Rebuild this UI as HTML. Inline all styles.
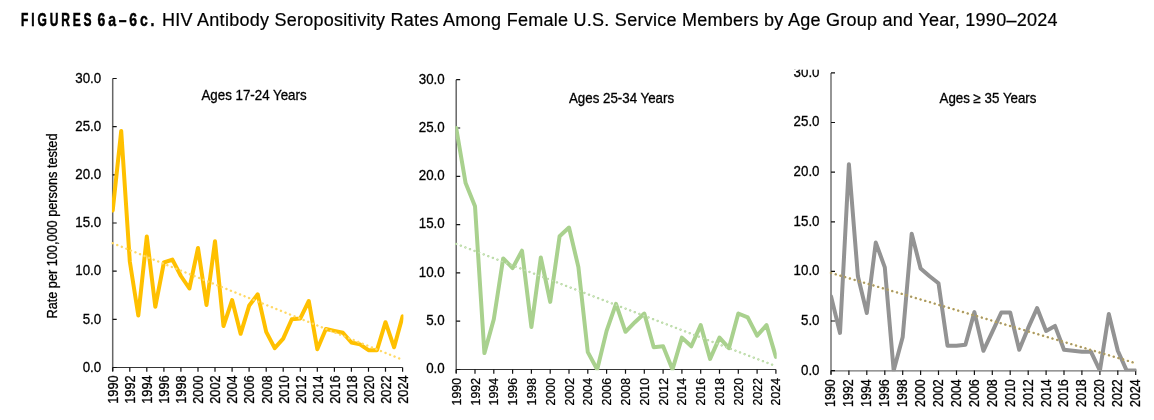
<!DOCTYPE html>
<html><head><meta charset="utf-8"><title>Figures 6a-6c</title>
<style>
html,body{margin:0;padding:0;background:#fff}
svg{display:block}
text{font-family:"Liberation Sans",Arial,sans-serif;font-size:13.33px;fill:#000;stroke:#000;stroke-width:0.28px}
</style></head><body>
<svg width="1154" height="420" viewBox="0 0 1154 420">
<rect width="1154" height="420" fill="#fff"/>
<text id="tb" transform="translate(21 26) scale(0.686 1)" style="font-weight:bold;font-size:17.5px;letter-spacing:4.2px;stroke:#000;stroke-width:0.55px">FIGURES</text>
<text id="tb2" transform="translate(97.6 26) scale(0.8 1)" style="font-weight:bold;font-size:17.5px;letter-spacing:3.5px;stroke:#000;stroke-width:0.45px">6a–6c.</text>
<text id="tt" x="162" y="26" textLength="895.5" lengthAdjust="spacing" style="font-size:18px;stroke-width:0.2px">HIV Antibody Seropositivity Rates Among Female U.S. Service Members by Age Group and Year, 1990–2024</text>
<text transform="translate(57 318.5) rotate(-90) scale(1 1.04)" textLength="185" lengthAdjust="spacingAndGlyphs">Rate per 100,000 persons tested</text>
<g id="c1">
<clipPath id="cp-c1"><rect x="112.0" y="68.5" width="291.4" height="299.7"/></clipPath>
<path d="M112.7 78.5V371.0" stroke="#666" stroke-width="1.5" fill="none"/>
<path d="M112.7 367.5H402.6" stroke="#363636" stroke-width="1.1" fill="none"/>
<path d="M112.7 367.5h4M112.7 319.3h4M112.7 271.2h4M112.7 223.0h4M112.7 174.8h4M112.7 126.7h4M112.7 78.5h4M112.7 367.5v4.3M129.8 367.5v4.3M146.8 367.5v4.3M163.9 367.5v4.3M180.9 367.5v4.3M198.0 367.5v4.3M215.0 367.5v4.3M232.1 367.5v4.3M249.1 367.5v4.3M266.2 367.5v4.3M283.2 367.5v4.3M300.3 367.5v4.3M317.3 367.5v4.3M334.4 367.5v4.3M351.4 367.5v4.3M368.5 367.5v4.3M385.5 367.5v4.3M402.6 367.5v4.3" stroke="#111" stroke-width="1.2" fill="none"/>
<polyline clip-path="url(#cp-c1)" points="112.7,210.5 121.2,131.0 129.8,261.5 138.3,315.5 146.8,236.5 155.3,306.8 163.9,262.5 172.4,259.6 180.9,276.0 189.4,288.5 198.0,248.0 206.5,304.9 215.0,241.3 223.5,326.1 232.1,300.1 240.6,333.8 249.1,305.8 257.7,294.3 266.2,331.9 274.7,348.2 283.2,338.6 291.8,319.3 300.3,318.4 308.8,301.0 317.3,349.2 325.9,329.0 334.4,330.9 342.9,332.8 351.4,342.5 360.0,344.4 368.5,350.2 377.0,350.2 385.5,322.2 394.1,347.3 402.6,316.4" fill="none" stroke="#FFC000" stroke-width="4.0" stroke-linejoin="round" stroke-linecap="round"/>
<line x1="112.7" y1="243.2" x2="402.6" y2="359.8" stroke="#FFD966" stroke-width="2.4" stroke-dasharray="0.1 4.800" stroke-linecap="round"/>
<g>
<text transform="translate(101.2 371.7) scale(1 1.08)" text-anchor="end">0.0</text>
<text transform="translate(101.2 323.5) scale(1 1.08)" text-anchor="end">5.0</text>
<text transform="translate(101.2 275.4) scale(1 1.08)" text-anchor="end">10.0</text>
<text transform="translate(101.2 227.2) scale(1 1.08)" text-anchor="end">15.0</text>
<text transform="translate(101.2 179.0) scale(1 1.08)" text-anchor="end">20.0</text>
<text transform="translate(101.2 130.9) scale(1 1.08)" text-anchor="end">25.0</text>
<text transform="translate(101.2 82.7) scale(1 1.08)" text-anchor="end">30.0</text>
</g>
<text transform="translate(118.0 375.4) rotate(-90) scale(0.955 1.08)" text-anchor="end">1990</text>
<text transform="translate(135.1 375.4) rotate(-90) scale(0.955 1.08)" text-anchor="end">1992</text>
<text transform="translate(152.1 375.4) rotate(-90) scale(0.955 1.08)" text-anchor="end">1994</text>
<text transform="translate(169.2 375.4) rotate(-90) scale(0.955 1.08)" text-anchor="end">1996</text>
<text transform="translate(186.2 375.4) rotate(-90) scale(0.955 1.08)" text-anchor="end">1998</text>
<text transform="translate(203.3 375.4) rotate(-90) scale(0.955 1.08)" text-anchor="end">2000</text>
<text transform="translate(220.3 375.4) rotate(-90) scale(0.955 1.08)" text-anchor="end">2002</text>
<text transform="translate(237.4 375.4) rotate(-90) scale(0.955 1.08)" text-anchor="end">2004</text>
<text transform="translate(254.4 375.4) rotate(-90) scale(0.955 1.08)" text-anchor="end">2006</text>
<text transform="translate(271.5 375.4) rotate(-90) scale(0.955 1.08)" text-anchor="end">2008</text>
<text transform="translate(288.5 375.4) rotate(-90) scale(0.955 1.08)" text-anchor="end">2010</text>
<text transform="translate(305.6 375.4) rotate(-90) scale(0.955 1.08)" text-anchor="end">2012</text>
<text transform="translate(322.6 375.4) rotate(-90) scale(0.955 1.08)" text-anchor="end">2014</text>
<text transform="translate(339.7 375.4) rotate(-90) scale(0.955 1.08)" text-anchor="end">2016</text>
<text transform="translate(356.7 375.4) rotate(-90) scale(0.955 1.08)" text-anchor="end">2018</text>
<text transform="translate(373.8 375.4) rotate(-90) scale(0.955 1.08)" text-anchor="end">2020</text>
<text transform="translate(390.8 375.4) rotate(-90) scale(0.955 1.08)" text-anchor="end">2022</text>
<text transform="translate(407.9 375.4) rotate(-90) scale(0.955 1.08)" text-anchor="end">2024</text>
<text transform="translate(254 100) scale(1 1.08)" text-anchor="middle">Ages 17-24 Years</text>
</g>
<g id="c2">
<clipPath id="cp-c2"><rect x="455.5" y="69.7" width="321.2" height="300.5"/></clipPath>
<path d="M456.2 79.7V373.0" stroke="#666" stroke-width="1.5" fill="none"/>
<path d="M456.2 369.5H775.9" stroke="#363636" stroke-width="1.1" fill="none"/>
<path d="M456.2 369.5h4M456.2 321.2h4M456.2 272.9h4M456.2 224.6h4M456.2 176.3h4M456.2 128.0h4M456.2 79.7h4M456.2 369.5v4.3M475.0 369.5v4.3M493.8 369.5v4.3M512.6 369.5v4.3M531.4 369.5v4.3M550.2 369.5v4.3M569.0 369.5v4.3M587.8 369.5v4.3M606.6 369.5v4.3M625.5 369.5v4.3M644.3 369.5v4.3M663.1 369.5v4.3M681.9 369.5v4.3M700.7 369.5v4.3M719.5 369.5v4.3M738.3 369.5v4.3M757.1 369.5v4.3M775.9 369.5v4.3" stroke="#111" stroke-width="1.2" fill="none"/>
<polyline clip-path="url(#cp-c2)" points="456.2,128.0 465.6,183.1 475.0,206.2 484.4,353.1 493.8,319.3 503.2,258.4 512.6,268.1 522.0,250.7 531.4,327.0 540.8,257.4 550.2,301.9 559.6,236.2 569.0,227.5 578.4,267.1 587.8,352.1 597.2,369.5 606.6,330.9 616.0,303.8 625.5,331.8 634.9,322.2 644.3,313.5 653.7,347.3 663.1,346.3 672.5,369.5 681.9,337.6 691.3,346.3 700.7,325.1 710.1,358.9 719.5,337.6 728.9,348.2 738.3,313.5 747.7,317.3 757.1,335.7 766.5,325.1 775.9,356.9" fill="none" stroke="#A9D18E" stroke-width="4.0" stroke-linejoin="round" stroke-linecap="round"/>
<line x1="456.2" y1="243.9" x2="775.9" y2="366.1" stroke="#B2D69B" stroke-width="2.4" stroke-dasharray="0.1 4.800" stroke-linecap="round"/>
<line x1="456.2" y1="243.9" x2="775.9" y2="366.1" stroke="#D2E7C6" stroke-width="1.1" stroke-dasharray="0.1 4.800" stroke-linecap="round"/>
<g>
<text transform="translate(444.7 373.3) scale(1 1.08)" text-anchor="end">0.0</text>
<text transform="translate(444.7 325.0) scale(1 1.08)" text-anchor="end">5.0</text>
<text transform="translate(444.7 276.7) scale(1 1.08)" text-anchor="end">10.0</text>
<text transform="translate(444.7 228.4) scale(1 1.08)" text-anchor="end">15.0</text>
<text transform="translate(444.7 180.1) scale(1 1.08)" text-anchor="end">20.0</text>
<text transform="translate(444.7 131.8) scale(1 1.08)" text-anchor="end">25.0</text>
<text transform="translate(444.7 83.5) scale(1 1.08)" text-anchor="end">30.0</text>
</g>
<text transform="translate(460.7 378.0) rotate(-90) scale(0.925 1.0)" text-anchor="end">1990</text>
<text transform="translate(479.5 378.0) rotate(-90) scale(0.925 1.0)" text-anchor="end">1992</text>
<text transform="translate(498.3 378.0) rotate(-90) scale(0.925 1.0)" text-anchor="end">1994</text>
<text transform="translate(517.1 378.0) rotate(-90) scale(0.925 1.0)" text-anchor="end">1996</text>
<text transform="translate(535.9 378.0) rotate(-90) scale(0.925 1.0)" text-anchor="end">1998</text>
<text transform="translate(554.7 378.0) rotate(-90) scale(0.925 1.0)" text-anchor="end">2000</text>
<text transform="translate(573.5 378.0) rotate(-90) scale(0.925 1.0)" text-anchor="end">2002</text>
<text transform="translate(592.3 378.0) rotate(-90) scale(0.925 1.0)" text-anchor="end">2004</text>
<text transform="translate(611.1 378.0) rotate(-90) scale(0.925 1.0)" text-anchor="end">2006</text>
<text transform="translate(630.0 378.0) rotate(-90) scale(0.925 1.0)" text-anchor="end">2008</text>
<text transform="translate(648.8 378.0) rotate(-90) scale(0.925 1.0)" text-anchor="end">2010</text>
<text transform="translate(667.6 378.0) rotate(-90) scale(0.925 1.0)" text-anchor="end">2012</text>
<text transform="translate(686.4 378.0) rotate(-90) scale(0.925 1.0)" text-anchor="end">2014</text>
<text transform="translate(705.2 378.0) rotate(-90) scale(0.925 1.0)" text-anchor="end">2016</text>
<text transform="translate(724.0 378.0) rotate(-90) scale(0.925 1.0)" text-anchor="end">2018</text>
<text transform="translate(742.8 378.0) rotate(-90) scale(0.925 1.0)" text-anchor="end">2020</text>
<text transform="translate(761.6 378.0) rotate(-90) scale(0.925 1.0)" text-anchor="end">2022</text>
<text transform="translate(780.4 378.0) rotate(-90) scale(0.925 1.0)" text-anchor="end">2024</text>
<text transform="translate(621.5 103) scale(1 1.08)" text-anchor="middle">Ages 25-34 Years</text>
</g>
<g id="c3">
<clipPath id="cp-c3"><rect x="830.3" y="62.9" width="306.2" height="308.4"/></clipPath>
<path d="M831.0 72.9V374.1" stroke="#777" stroke-width="1.55" fill="none"/>
<path d="M831.0 370.8H1135.7" stroke="#757575" stroke-width="1.3" fill="none"/>
<path d="M831.0 370.6h4M831.0 321.0h4M831.0 271.4h4M831.0 221.8h4M831.0 172.1h4M831.0 122.5h4M831.0 72.9h4M831.0 370.6v4.3M848.9 370.6v4.3M866.8 370.6v4.3M884.8 370.6v4.3M902.7 370.6v4.3M920.6 370.6v4.3M938.5 370.6v4.3M956.5 370.6v4.3M974.4 370.6v4.3M992.3 370.6v4.3M1010.2 370.6v4.3M1028.2 370.6v4.3M1046.1 370.6v4.3M1064.0 370.6v4.3M1081.9 370.6v4.3M1099.9 370.6v4.3M1117.8 370.6v4.3M1135.7 370.6v4.3" stroke="#111" stroke-width="1.2" fill="none"/>
<polyline clip-path="url(#cp-c3)" points="831.0,296.2 840.0,332.9 848.9,164.2 857.9,276.3 866.8,313.0 875.8,242.6 884.8,267.4 893.7,370.6 902.7,336.9 911.7,233.7 920.6,268.4 929.6,276.3 938.5,283.3 947.5,345.8 956.5,345.8 965.4,344.8 974.4,312.1 983.4,350.8 992.3,331.9 1001.3,312.5 1010.2,312.5 1019.2,349.8 1028.2,327.9 1037.1,308.1 1046.1,330.9 1055.0,325.9 1064.0,349.8 1073.0,350.8 1081.9,351.7 1090.9,351.7 1099.9,370.6 1108.8,314.0 1117.8,350.8 1126.7,370.6 1135.7,370.6" fill="none" stroke="#939393" stroke-width="4.0" stroke-linejoin="round" stroke-linecap="round"/>
<line x1="831.0" y1="272.9" x2="1135.7" y2="363.2" stroke="#D0AE3C" stroke-width="2.4" stroke-dasharray="0.1 4.814" stroke-linecap="round"/>
<line x1="831.0" y1="272.9" x2="1135.7" y2="363.2" stroke="#8e8e8e" stroke-width="1.55" stroke-dasharray="0.1 4.814" stroke-linecap="round"/>
<clipPath id="top-c3"><rect x="0" y="69.7" width="1154" height="360"/></clipPath>
<g clip-path="url(#top-c3)">
<text transform="translate(819.5 374.5) scale(1 1.08)" text-anchor="end">0.0</text>
<text transform="translate(819.5 324.9) scale(1 1.08)" text-anchor="end">5.0</text>
<text transform="translate(819.5 275.3) scale(1 1.08)" text-anchor="end">10.0</text>
<text transform="translate(819.5 225.7) scale(1 1.08)" text-anchor="end">15.0</text>
<text transform="translate(819.5 176.0) scale(1 1.08)" text-anchor="end">20.0</text>
<text transform="translate(819.5 126.4) scale(1 1.08)" text-anchor="end">25.0</text>
<text transform="translate(819.5 76.8) scale(1 1.08)" text-anchor="end">30.0</text>
</g>
<text transform="translate(835.4 379.2) rotate(-90) scale(0.935 1.03)" text-anchor="end">1990</text>
<text transform="translate(853.3 379.2) rotate(-90) scale(0.935 1.03)" text-anchor="end">1992</text>
<text transform="translate(871.2 379.2) rotate(-90) scale(0.935 1.03)" text-anchor="end">1994</text>
<text transform="translate(889.2 379.2) rotate(-90) scale(0.935 1.03)" text-anchor="end">1996</text>
<text transform="translate(907.1 379.2) rotate(-90) scale(0.935 1.03)" text-anchor="end">1998</text>
<text transform="translate(925.0 379.2) rotate(-90) scale(0.935 1.03)" text-anchor="end">2000</text>
<text transform="translate(942.9 379.2) rotate(-90) scale(0.935 1.03)" text-anchor="end">2002</text>
<text transform="translate(960.9 379.2) rotate(-90) scale(0.935 1.03)" text-anchor="end">2004</text>
<text transform="translate(978.8 379.2) rotate(-90) scale(0.935 1.03)" text-anchor="end">2006</text>
<text transform="translate(996.7 379.2) rotate(-90) scale(0.935 1.03)" text-anchor="end">2008</text>
<text transform="translate(1014.6 379.2) rotate(-90) scale(0.935 1.03)" text-anchor="end">2010</text>
<text transform="translate(1032.6 379.2) rotate(-90) scale(0.935 1.03)" text-anchor="end">2012</text>
<text transform="translate(1050.5 379.2) rotate(-90) scale(0.935 1.03)" text-anchor="end">2014</text>
<text transform="translate(1068.4 379.2) rotate(-90) scale(0.935 1.03)" text-anchor="end">2016</text>
<text transform="translate(1086.3 379.2) rotate(-90) scale(0.935 1.03)" text-anchor="end">2018</text>
<text transform="translate(1104.3 379.2) rotate(-90) scale(0.935 1.03)" text-anchor="end">2020</text>
<text transform="translate(1122.2 379.2) rotate(-90) scale(0.935 1.03)" text-anchor="end">2022</text>
<text transform="translate(1140.1 379.2) rotate(-90) scale(0.935 1.03)" text-anchor="end">2024</text>
<text transform="translate(988 103) scale(1 1.08)" text-anchor="middle">Ages ≥ 35 Years</text>
</g>
</svg>
</body></html>
